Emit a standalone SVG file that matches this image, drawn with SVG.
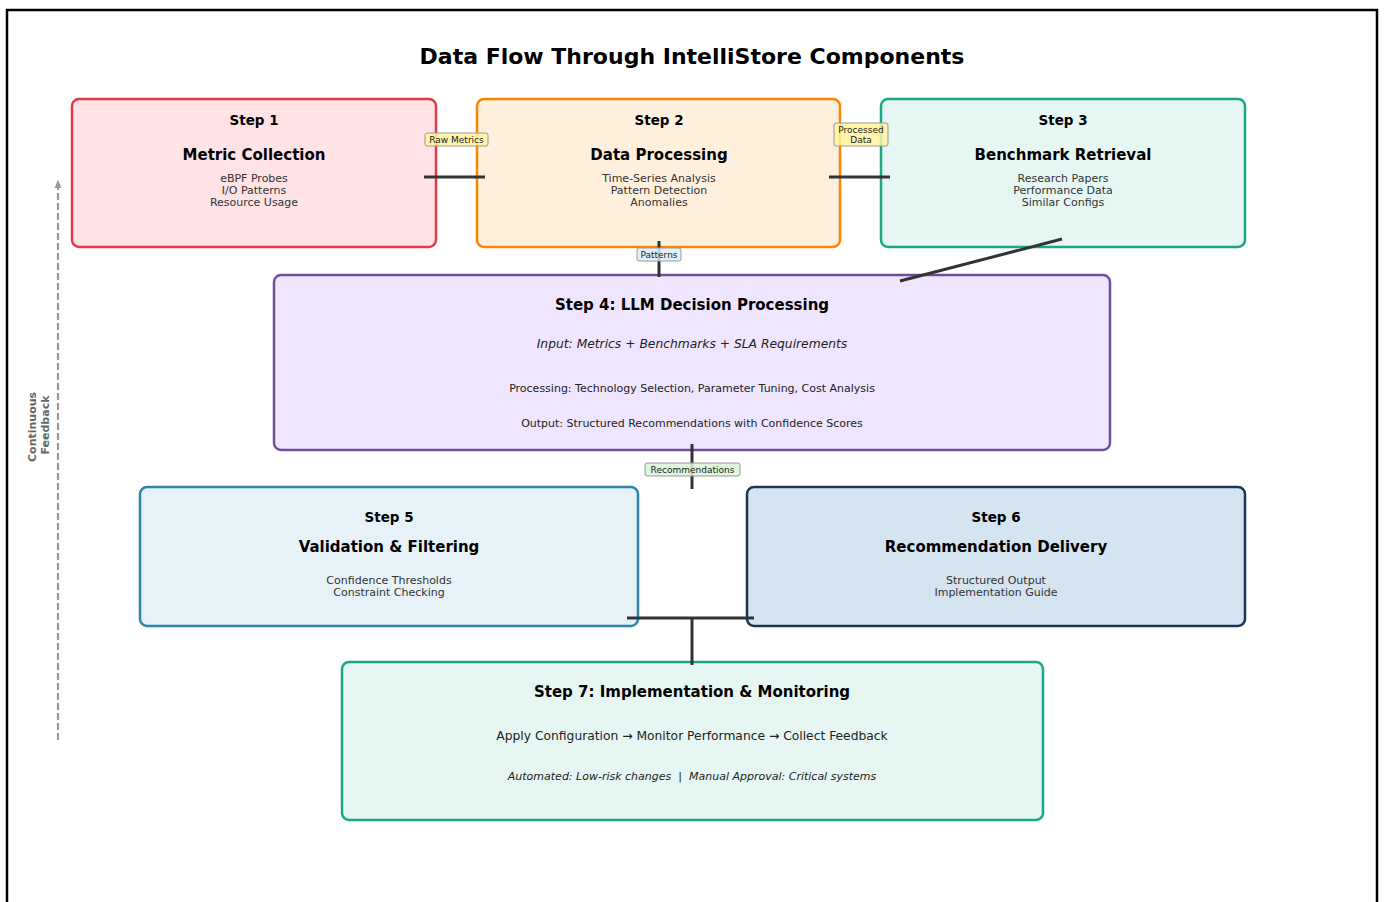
<svg xmlns="http://www.w3.org/2000/svg" width="1384" height="902" viewBox="0 0 1384 902">
  <style>
    text { font-family: "DejaVu Sans", "Liberation Sans", sans-serif; text-anchor: middle; dominant-baseline: central; }
    .title { font-size: 22px; font-weight: bold; fill: #000; }
    .step { font-size: 13.5px; font-weight: bold; fill: #000; }
    .name { font-size: 15px; font-weight: bold; fill: #000; }
    .detail { font-size: 11px; fill: #333; }
    .big { font-size: 15px; font-weight: bold; fill: #000; }
    .ital { font-size: 12.3px; font-style: italic; fill: #222; }
    .body { font-size: 11px; fill: #222; }
    .body12 { font-size: 12.3px; fill: #222; }
    .ital11 { font-size: 11px; font-style: italic; fill: #222; }
    .box { stroke-width: 2.5; }
    .conn { stroke: #333; stroke-width: 3; fill: none; }
    .lbl { font-size: 9px; fill: #222; }
    .tag { stroke: #999; stroke-width: 1; }
  </style>
  <defs>
    <marker id="up" viewBox="0 0 10 10" refX="5" refY="5" markerWidth="4" markerHeight="4" orient="auto">
      <path d="M0,1 L10,5 L0,9 Z" fill="#999"/>
    </marker>
  </defs>

  <rect width="1384" height="902" fill="#fff"/>
  <path d="M7,902 V10 H1377 V902" fill="none" stroke="#000" stroke-width="2.5"/>

  <text class="title" x="692" y="56">Data Flow Through IntelliStore Components</text>

  <g id="step1">
    <rect class="box" x="72" y="99" width="364" height="148" rx="7" fill="#ffe3e6" stroke="#e63946"/>
    <text class="step" x="254" y="120">Step 1</text>
    <text class="name" x="254" y="155">Metric Collection</text>
    <text class="detail" x="254" y="178">eBPF Probes</text>
    <text class="detail" x="254" y="190">I/O Patterns</text>
    <text class="detail" x="254" y="202">Resource Usage</text>
  </g>

  <g id="step2">
    <rect class="box" x="477" y="99" width="363" height="148" rx="7" fill="#fff0dd" stroke="#fb8500"/>
    <text class="step" x="659" y="120">Step 2</text>
    <text class="name" x="659" y="155">Data Processing</text>
    <text class="detail" x="659" y="178">Time-Series Analysis</text>
    <text class="detail" x="659" y="190">Pattern Detection</text>
    <text class="detail" x="659" y="202">Anomalies</text>
  </g>

  <g id="step3">
    <rect class="box" x="881" y="99" width="364" height="148" rx="7" fill="#e6f7f3" stroke="#17a884"/>
    <text class="step" x="1063" y="120">Step 3</text>
    <text class="name" x="1063" y="155">Benchmark Retrieval</text>
    <text class="detail" x="1063" y="178">Research Papers</text>
    <text class="detail" x="1063" y="190">Performance Data</text>
    <text class="detail" x="1063" y="202">Similar Configs</text>
  </g>

  <g id="step4">
    <rect class="box" x="274" y="275" width="836" height="175" rx="7" fill="#efe5ff" stroke="#6f4e9c"/>
    <text class="big" x="692" y="305">Step 4: LLM Decision Processing</text>
    <text class="ital" x="692" y="344">Input: Metrics + Benchmarks + SLA Requirements</text>
    <text class="body" x="692" y="388">Processing: Technology Selection, Parameter Tuning, Cost Analysis</text>
    <text class="body" x="692" y="423">Output: Structured Recommendations with Confidence Scores</text>
  </g>

  <g id="step5">
    <rect class="box" x="140" y="487" width="498" height="139" rx="7" fill="#e6f2f8" stroke="#2e86ab"/>
    <text class="step" x="389" y="517">Step 5</text>
    <text class="name" x="389" y="547">Validation &amp; Filtering</text>
    <text class="detail" x="389" y="580">Confidence Thresholds</text>
    <text class="detail" x="389" y="592">Constraint Checking</text>
  </g>

  <g id="step6">
    <rect class="box" x="747" y="487" width="498" height="139" rx="7" fill="#d4e4f1" stroke="#1d3557"/>
    <text class="step" x="996" y="517">Step 6</text>
    <text class="name" x="996" y="547">Recommendation Delivery</text>
    <text class="detail" x="996" y="580">Structured Output</text>
    <text class="detail" x="996" y="592">Implementation Guide</text>
  </g>

  <g id="step7">
    <rect class="box" x="342" y="662" width="701" height="158" rx="7" fill="#e6f7f3" stroke="#17a884"/>
    <text class="big" x="692" y="692">Step 7: Implementation &amp; Monitoring</text>
    <text class="body12" x="692" y="736">Apply Configuration → Monitor Performance → Collect Feedback</text>
    <text class="ital11" x="692" y="776" xml:space="preserve">Automated: Low-risk changes  |  Manual Approval: Critical systems</text>
  </g>

  <g id="connectors">
    <line class="conn" x1="424" y1="177" x2="485" y2="177"/>
    <line class="conn" x1="829" y1="177" x2="890" y2="177"/>
    <line class="conn" x1="659" y1="241" x2="659" y2="277"/>
    <line class="conn" x1="1062" y1="239" x2="900" y2="281"/>
    <line class="conn" x1="692" y1="444" x2="692" y2="489"/>
    <line class="conn" x1="627" y1="618" x2="754" y2="618"/>
    <line class="conn" x1="692" y1="618" x2="692" y2="665"/>

    <rect class="tag" x="425" y="133" width="63" height="13" rx="2" fill="#fff59d" fill-opacity="0.85"/>
    <text class="lbl" x="456.5" y="139.5">Raw Metrics</text>
    <rect class="tag" x="834" y="123" width="54" height="23" rx="2" fill="#fff59d" fill-opacity="0.85"/>
    <text class="lbl" x="861" y="129.5">Processed</text>
    <text class="lbl" x="861" y="139.5">Data</text>
    <rect class="tag" x="637" y="248" width="44" height="13" rx="2" fill="#ddeef8" fill-opacity="0.85"/>
    <text class="lbl" x="659" y="254.5">Patterns</text>
    <rect class="tag" x="645" y="463" width="95" height="13" rx="2" fill="#d8f3d8" fill-opacity="0.85"/>
    <text class="lbl" x="692.5" y="469.5">Recommendations</text>

    <line x1="58" y1="740" x2="58" y2="184" stroke="#999" stroke-width="2.2" stroke-dasharray="7,3" marker-end="url(#up)"/>
    <text transform="translate(38,425) rotate(-90)" font-size="11" font-weight="bold" fill="#666">
      <tspan x="0" y="-6">Continuous</tspan>
      <tspan x="0" y="7">Feedback</tspan>
    </text>
  </g>
</svg>
